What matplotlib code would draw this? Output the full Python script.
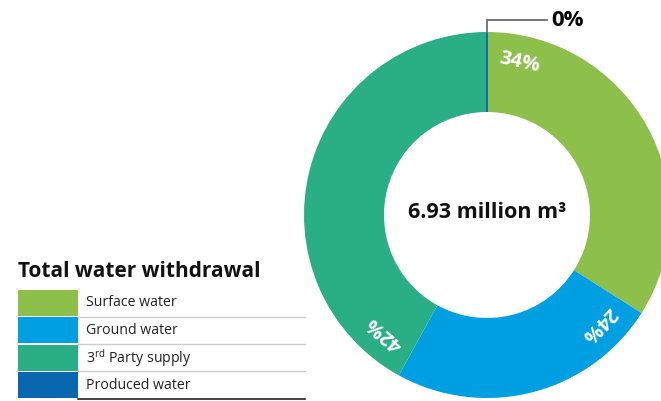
import numpy as np
import matplotlib.pyplot as plt
import matplotlib as mpl
from matplotlib import font_manager
from matplotlib.patches import Rectangle

# pick a sans family that actually ships a bold face
bold_families = {f.name for f in font_manager.fontManager.ttflist if f.weight in (700, 'bold')}
family = next((f for f in ['Open Sans', 'Noto Sans', 'Lato', 'Roboto'] if f in bold_families),
              'DejaVu Sans')
mpl.rcParams['font.family'] = [family, 'DejaVu Sans']
mpl.rcParams['mathtext.fontset'] = 'custom'
mpl.rcParams['mathtext.rm'] = family

# Water withdrawal by source (share of total, %)
sources = ['Surface water', 'Ground water', '3$^{\\mathrm{rd}}$ Party supply', 'Produced water']
shares = [34, 24, 42, 0]
source_colors = ['#8dc04b', '#009fe1', '#2aae86', '#0867ae']
total_label = '6.93 million m³'
title = 'Total water withdrawal'

fig = plt.figure(figsize=(6.61, 4.01), dpi=100)
ax = fig.add_axes([0, 0, 1, 1])

# donut geometry (axes units are pixels, origin bottom-left)
cx, cy = 487, 186
R, ring = 183, 80

wedges, _ = ax.pie(shares, colors=source_colors, startangle=90, counterclock=False,
                   radius=R, center=(cx, cy),
                   wedgeprops=dict(width=ring, edgecolor='none', linewidth=0))

# the empty "produced water" slice shows up as a thin line
wedges[3].set_edgecolor(source_colors[3])
wedges[3].set_linewidth(1.3)

# percentage labels, a little past the start of each slice, following the ring
starts = np.concatenate([[0], np.cumsum(shares)[:-1]]) / sum(shares) * 360
label_r = 156
for share, start in zip(shares, starts):
    if share == 0:
        continue
    ang = start + 12
    t = np.radians(ang)
    ax.text(cx + label_r * np.sin(t), cy + label_r * np.cos(t), f'{share}%',
            color='white', fontsize=14.5, fontweight='bold',
            ha='center', va='center', rotation=-ang, rotation_mode='anchor')

# leader for the zero slice
zero_start = starts[3]
t = np.radians(zero_start)
x0, y0 = cx + R * np.sin(t), cy + R * np.cos(t)
ax.plot([x0, x0, x0 + 60], [y0, y0 + 12, y0 + 12], color='#6d6e71', lw=1.3,
        solid_joinstyle='miter')
ax.text(x0 + 64, y0 + 12, f'{shares[3]}%', fontsize=16, fontweight='bold',
        ha='left', va='center', color='black')

# total in the hole
ax.text(cx, cy + 3, total_label, fontsize=15.5, fontweight='bold',
        ha='center', va='center', color='#111111')

# legend block
ax.text(18, 124, title, fontsize=15, fontweight='bold', ha='left', va='baseline',
        color='#111111')
row_top, row_h, gap = 111, 26, 1.4
for i, (name, col) in enumerate(zip(sources, source_colors)):
    top = row_top - i * (row_h + gap)
    ax.add_patch(Rectangle((18, top - row_h), 60, row_h, facecolor=col, edgecolor='none'))
    ax.text(86, top - row_h / 2, name, fontsize=10.2, ha='left', va='center',
            color='#222222')
    last = i == len(sources) - 1
    ax.plot([78, 305], [top - row_h - 0.5] * 2,
            color='#222222' if last else '#c9ced3', lw=1.2 if last else 1.0)

ax.set_xlim(0, 661)
ax.set_ylim(0, 401)
ax.set_aspect('equal')
ax.axis('off')

fig.savefig('out.png', dpi=100)
